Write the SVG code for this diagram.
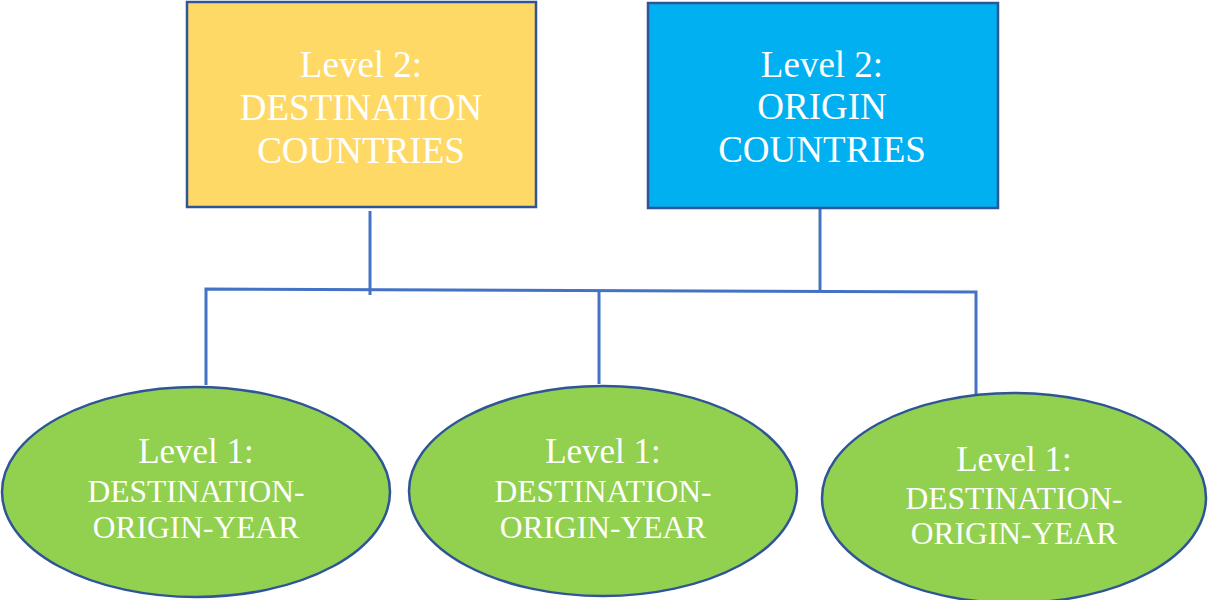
<svg xmlns="http://www.w3.org/2000/svg" width="1208" height="600" viewBox="0 0 1208 600">
<style>
.box{stroke:#2F5597;stroke-width:2.5}
.ell{fill:#92D050;stroke:#2F5597;stroke-width:2.5}
.conn{fill:none;stroke:#4472C4;stroke-width:3}
text{font-family:"Liberation Serif","Times New Roman",serif;fill:#FFFFFF;text-anchor:middle}
.t2{font-size:37px}
.t1a{font-size:35px}
.t1b{font-size:31.5px}
</style>
<rect x="0" y="0" width="1208" height="600" fill="#FFFFFF"/>
<g id="connectors">
<path class="conn" d="M370 211 V295"/>
<path class="conn" d="M820 208 V291"/>
<path class="conn" d="M206 385 V289 L976 292 V394"/>
<path class="conn" d="M599 290 V384"/>
</g>
<g id="dest-countries">
<rect class="box" x="187" y="2" width="349" height="205" fill="#FFD966"/>
<text class="t2" x="361" y="77">Level 2:</text>
<text class="t2" x="361" y="120">DESTINATION</text>
<text class="t2" x="361" y="163">COUNTRIES</text>
</g>
<g id="origin-countries">
<rect class="box" x="648" y="3" width="350" height="205" fill="#00B0F0"/>
<text class="t2" x="822" y="77">Level 2:</text>
<text class="t2" x="822" y="119">ORIGIN</text>
<text class="t2" x="822" y="162">COUNTRIES</text>
</g>
<g id="level1-a">
<ellipse class="ell" cx="196" cy="492" rx="194" ry="105"/>
<text class="t1a" x="196" y="463">Level 1:</text>
<text class="t1b" x="196" y="502">DESTINATION-</text>
<text class="t1b" x="196" y="538">ORIGIN-YEAR</text>
</g>
<g id="level1-b">
<ellipse class="ell" cx="603" cy="491" rx="194" ry="105"/>
<text class="t1a" x="603" y="463">Level 1:</text>
<text class="t1b" x="603" y="502">DESTINATION-</text>
<text class="t1b" x="603" y="538">ORIGIN-YEAR</text>
</g>
<g id="level1-c">
<ellipse class="ell" cx="1014" cy="498" rx="192" ry="105"/>
<text class="t1a" x="1014" y="471">Level 1:</text>
<text class="t1b" x="1014" y="509">DESTINATION-</text>
<text class="t1b" x="1014" y="544">ORIGIN-YEAR</text>
</g>
</svg>
